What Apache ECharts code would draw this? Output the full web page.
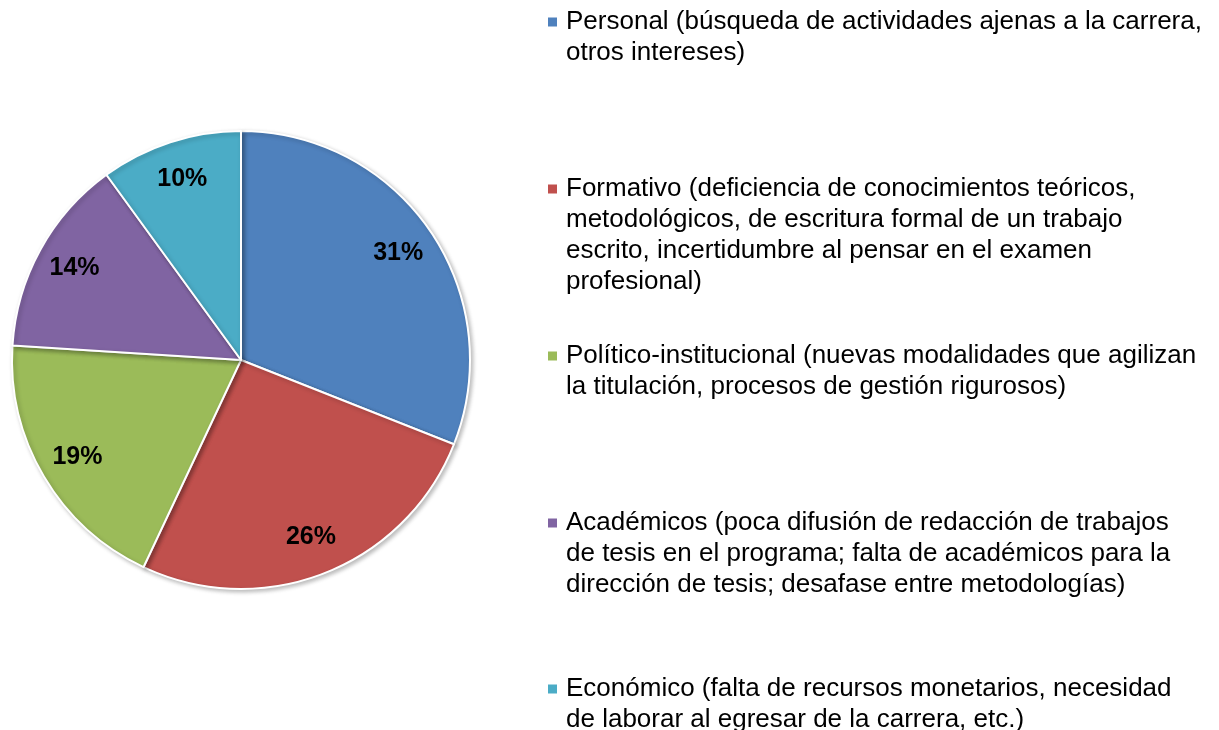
<!DOCTYPE html>
<html>
<head>
<meta charset="utf-8">
<script src="https://cdn.jsdelivr.net/npm/echarts@6/dist/echarts.min.js"></script>
<style>
	html, body { margin: 0; padding: 0; background: #fff; }
	#chart { width: 1219px; height: 730px; }
</style>
</head>
<body>
<div id="chart"></div>
<script>

// categories, in clockwise order starting at 12 o'clock
var categories = ['Personal', 'Formativo', 'Político-institucional', 'Académicos', 'Económico'];

// percentages
var values = [31, 26, 19, 14, 10];

// legend texts, broken the way the reference wraps them
var legendLabels = [
	'Personal (búsqueda de actividades ajenas a la carrera,\notros intereses)',
	'Formativo (deficiencia de conocimientos teóricos,\nmetodológicos, de escritura formal de un trabajo\nescrito, incertidumbre al pensar en el examen\nprofesional)',
	'Político-institucional (nuevas modalidades que agilizan\nla titulación, procesos de gestión rigurosos)',
	'Académicos (poca difusión de redacción de trabajos\nde tesis en el programa; falta de académicos para la\ndirección de tesis; desafase entre metodologías)',
	'Económico (falta de recursos monetarios, necesidad\nde laborar al egresar de la carrera, etc.)'
];

var colors = ['#4F81BD', '#C0504D', '#9BBB59', '#8064A2', '#4BACC6'];

var FONT = '"Liberation Sans", Arial, sans-serif';
var LINE_H = 31;
// y of the first text line of each legend entry
var legendFirstLine = [22, 189, 356, 523, 689];

var chart = echarts.init(document.getElementById('chart'), null, { renderer: 'canvas' });

var pieData = categories.map(function (name, i) {
	return { name: name, value: values[i], itemStyle: { color: colors[i] } };
});

// one legend per entry so each can sit on its own row
var legends = categories.map(function (name, i) {
	var lines = legendLabels[i].split('\n').length;
	// legend text is centred on the icon, so pad with empty lines on top
	// to bring the icon level with the first line
	var padded = new Array(lines).join('\n') + legendLabels[i];
	return {
		orient: 'vertical',
		left: 546,
		top: legendFirstLine[i] - LINE_H / 2 - (lines - 1) * LINE_H,
		padding: 0,
		data: [name],
		icon: 'rect',
		itemWidth: 11,
		itemHeight: 11,
		selectedMode: false,
		formatter: function () { return padded; },
		textStyle: {
			fontFamily: FONT,
			fontSize: 26,
			color: '#000',
			lineHeight: LINE_H,
			padding: [0, 0, 0, 3]
		}
	};
});

var option = {
	backgroundColor: '#fff',
	animation: false,
	legend: legends,
	series: [
		{
			type: 'pie',
			center: [241, 360],
			radius: [0, 229],
			startAngle: 90,
			clockwise: true,
			data: pieData,
			label: { show: false },
			labelLine: { show: false },
			emphasis: { disabled: true },
			itemStyle: {
				borderColor: '#fff',
				borderWidth: 2,
				shadowBlur: 4,
				shadowOffsetX: 2,
				shadowOffsetY: 2,
				shadowColor: 'rgba(0,0,0,0.25)'
			}
		},
		{
			// transparent ring only used to put the percentages at ~0.82 radius
			type: 'pie',
			center: [241, 360],
			radius: [145, 229],
			startAngle: 90,
			clockwise: true,
			silent: true,
			data: values.map(function (v, i) {
				return { name: categories[i], value: v };
			}),
			itemStyle: { color: 'rgba(0,0,0,0)', borderWidth: 0 },
			labelLine: { show: false },
			emphasis: { disabled: true },
			label: {
				show: true,
				position: 'inside',
				formatter: function (p) { return p.value + '%'; },
				fontFamily: FONT,
				fontSize: 25,
				fontWeight: 'bold',
				color: '#000'
			}
		}
	]
};

chart.setOption(option);

</script>
</body>
</html>
